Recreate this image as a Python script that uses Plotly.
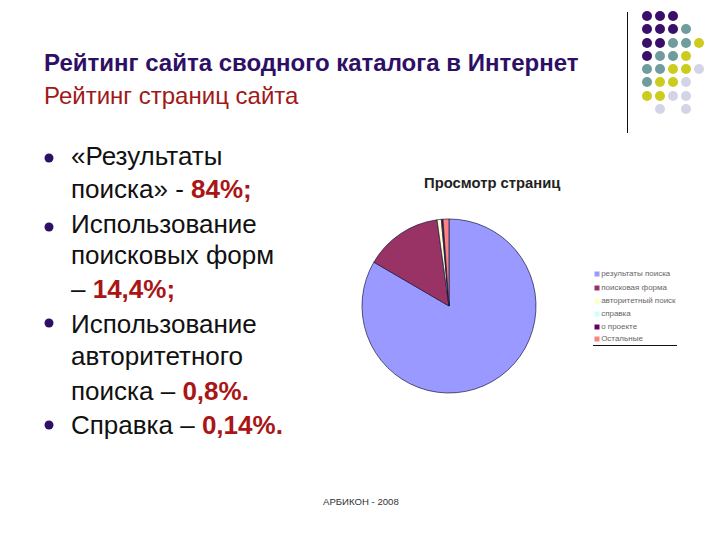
import plotly.graph_objects as go

# slide text
title = "Рейтинг сайта сводного каталога в Интернет"
subtitle = "Рейтинг страниц сайта"
body_lines = [
    "«Результаты",
    "поиска» - <b>84%;</b>",
    "Использование",
    "поисковых форм",
    "– <b>14,4%;</b>",
    "Использование",
    "авторитетного",
    "поиска – <b>0,8%.</b>",
    "Справка – <b>0,14%.</b>",
]
body_y = [156, 189, 224, 255, 289, 324, 356, 391, 425]
bullet_y = [158, 227, 323, 425]
chart_title = "Просмотр страниц"
footer = "АРБИКОН - 2008"

# pie values
labels = ["результаты поиска", "поисковая форма", "авторитетный поиск", "справка", "о проекте", "Остальные"]
values = [83.4, 14.4, 0.8, 0.14, 0.16, 1.1]
colors = ["#9999FF", "#993366", "#FFFFCC", "#CCFFFF", "#660066", "#FF8080"]
legend_y = [274, 288, 301, 314, 327, 339]

# decoration dots in the corner
dot_cols = [647, 660, 673, 686, 699]
dot_rows = [16, 29, 43, 56, 69, 82, 96, 109]
dot_grid = [
    "PPP",
    "PPPT",
    "PPTTY",
    "PTTY",
    "TTYYL",
    "TYYL",
    "YYLL",
    " L L",
]
dot_colors = {"P": "#3A0F6B", "T": "#6F9C9C", "Y": "#CCCC1E", "L": "#D4D4E8"}

dot_x, dot_y, dot_c = [], [], []
for row, line in zip(dot_rows, dot_grid):
    for col, ch in zip(dot_cols, line):
        if ch != " ":
            dot_x.append(col)
            dot_y.append(row)
            dot_c.append(dot_colors[ch])

fig = go.Figure()

# pie: centre (449, 306), radius 87 px
fig.add_trace(go.Pie(
    labels=labels, values=values, sort=False, direction="clockwise", rotation=0,
    marker=dict(colors=colors, line=dict(color="#1A1A40", width=0.7)),
    textinfo="none", hoverinfo="label+percent", showlegend=False,
    domain=dict(x=[362 / 720, 536 / 720], y=[1 - 393 / 540, 1 - 219 / 540]),
))

fig.add_trace(go.Scatter(
    x=dot_x, y=dot_y, mode="markers", showlegend=False,
    marker=dict(size=10, color=dot_c),
))
fig.add_trace(go.Scatter(
    x=[49] * len(bullet_y), y=bullet_y, mode="markers", showlegend=False,
    marker=dict(size=9, color="#2E0F66"),
))
fig.add_trace(go.Scatter(
    x=[597] * len(labels), y=legend_y, mode="markers+text", showlegend=False,
    marker=dict(size=5, symbol="square", color=colors),
    text=labels, textposition="middle right",
    textfont=dict(family="Liberation Sans", size=8, color="#666666"),
))

fig.add_shape(type="line", x0=627.5, x1=627.5, y0=12, y1=133, line=dict(color="#111111", width=1))
fig.add_shape(type="line", x0=593, x1=677, y0=345.5, y1=345.5, line=dict(color="#111111", width=1))


def put(text, x, y, size, color, anchor="left"):
    fig.add_annotation(
        x=x, y=y, text=text, showarrow=False, xanchor=anchor, yanchor="middle",
        font=dict(family="Liberation Sans", size=size, color=color),
    )


put("<b>" + title + "</b>", 42, 62, 24, "#2E0F66")
put(subtitle, 42, 95, 24, "#A01818")
for line, y in zip(body_lines, body_y):
    put(line.replace("<b>", "<b style='color:#AA1616'>"), 69, y, 26, "#111111")
put("<b>" + chart_title + "</b>", 492, 183, 14.8, "#222222", "center")
put(footer, 361, 501, 9.6, "#333333", "center")

fig.update_layout(
    width=720, height=540, autosize=False,
    margin=dict(l=0, r=0, t=0, b=0),
    paper_bgcolor="white", plot_bgcolor="white",
    xaxis=dict(range=[0, 720], visible=False, domain=[0, 1]),
    yaxis=dict(range=[540, 0], visible=False, domain=[0, 1]),
)

# page margin would push the slide off by 8 px
fig.write_html("out.html", config=dict(displayModeBar=False),
               post_script="document.body.style.margin='0';")
